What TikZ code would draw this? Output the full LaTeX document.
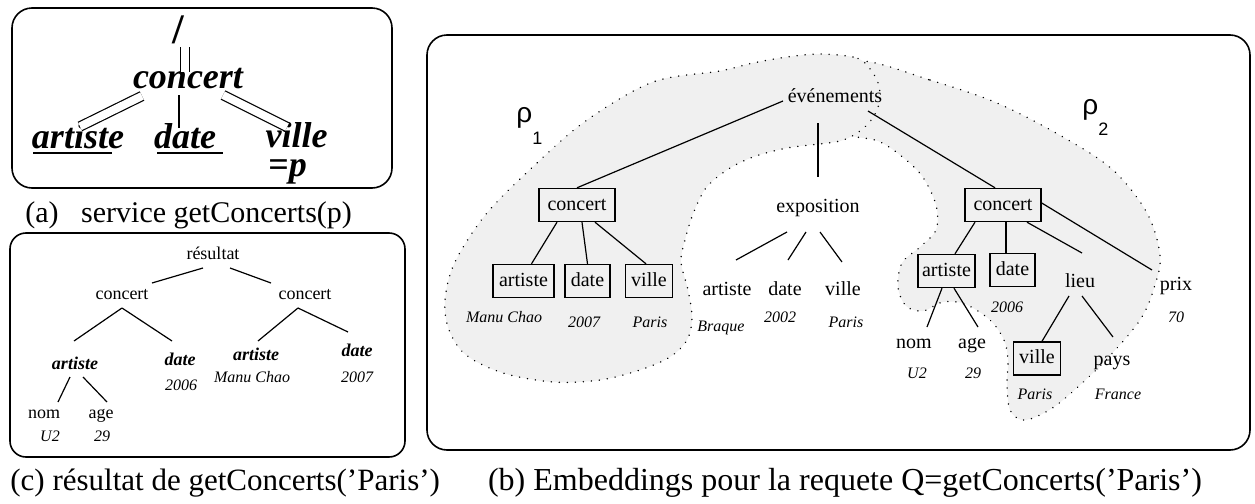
\documentclass[tikz,border=0pt]{standalone}
\usepackage{fontspec}
\setmainfont{Liberation Serif}
\newfontfamily\rhofont{Liberation Sans}
\usetikzlibrary{calc}

\begin{document}
\begin{tikzpicture}[x=0.5pt,y=-0.5pt,
  panel/.style={line width=0.8pt, rounded corners=10pt},
  conn/.style={line width=0.6pt},
  dbl/.style={double, double distance=4pt, line width=0.6pt},
  blob/.style={fill=black!6, line width=0.8pt, line cap=round, dash pattern=on 0.01pt off 4pt},
  abi/.style={font=\fontsize{18}{20}\selectfont\bfseries\itshape, inner sep=0pt, text height=12pt, text depth=4pt},
  lbl/.style={font=\fontsize{10}{12}\selectfont, inner sep=1pt, text height=7pt, text depth=2pt},
  bx/.style={lbl, draw, line width=0.7pt, inner xsep=3pt, minimum height=16.5pt},
  val/.style={font=\fontsize{8}{10}\selectfont\itshape, inner sep=1pt, text height=6pt, text depth=1.5pt},
  clbl/.style={font=\fontsize{9}{11}\selectfont, inner sep=1pt, text height=6.5pt, text depth=2pt},
  cbi/.style={clbl, font=\fontsize{9}{11}\selectfont\bfseries\itshape},
  rho/.style={font=\fontsize{14}{16}\selectfont\rhofont, inner sep=0pt, anchor=base west},
  captxt/.style={inner sep=0pt, anchor=base west}
]
\useasboundingbox (0,0) rectangle (1255,504);

% ---------- frames ----------
\draw[panel] (12,8) rectangle (392,188);
\draw[panel, rounded corners=8pt] (10,233) rectangle (405,457);
\draw[panel] (427,35) rectangle (1250,450);

% ---------- embedding regions ----------
% rho_2 first: its left end lies under rho_1
\draw[blob] plot[smooth cycle, tension=0.55] coordinates {
  (862,61) (930,80) (997,103) (1063,137) (1113,170) (1147,213) (1160,255)
  (1155,285) (1140,320) (1103,363) (1063,400) (1040,415) (1022,420)
  (1010,410) (1007,385) (1008,360) (1004,340) (990,320) (965,304) (943,302)
  (923,311) (906,306) (898,287) (902,263) (920,247) (936,230) (936,205)
  (922,176) (900,155) (878,141) (852,136) (815,125) (800,100) (815,75)};
\draw[blob] plot[smooth cycle, tension=0.55] coordinates {
  (866,64) (853,57) (820,54) (787,57) (753,63) (720,71) (653,82) (587,120)
  (537,163) (487,213) (455,262) (445,300) (449,330) (466,355) (503,373)
  (553,382) (600,380) (640,370) (670,357) (687,340) (692,318) (688,290)
  (681,262) (685,240) (693,214) (706,188) (727,170) (753,157) (787,148)
  (820,144) (840,141) (854,135) (868,124) (877,110) (880,95) (877,80)};

\node[rho] (r1) at (516,122) {ρ\raisebox{-11pt}{\fontsize{9}{10}\selectfont 1}};
\node[rho] (r2) at (1082,114) {ρ\raisebox{-10.5pt}{\fontsize{9}{10}\selectfont 2}};

% ---------- (a) service pattern ----------
\node[abi, font=\fontsize{21}{24}\selectfont\bfseries] (sl) at (178,35) {/};
\node[abi] (aC) at (188,80) {concert};
\node[abi] (aA) at (78,140) {artiste};
\node[abi] (aD) at (185,140) {date};
\node[abi, text depth=2pt] (aV) at (296.5,137) {ville};
\node[abi, text height=9pt] (aP) at (287.5,171) {=p};

\draw[dbl] ($(sl)+(7,12)$) -- ($(aC)+(-3,-8)$);
\draw[dbl] ($(aC)+(-46,16)$) -- ($(aA)+(2,-13.5)$);
\draw[conn] ($(aC)+(-9,15)$) -- ($(aD)+(-6,-12)$);
\draw[dbl] ($(aC)+(35,15)$) -- ($(aV)+(-9.5,-10)$);
\draw[conn] ($(aA)+(-45,13)$) -- ($(aA)+(34,13)$);
\draw[conn] ($(aD)+(-28,13)$) -- ($(aD)+(38,13)$);

\node[captxt, font=\fontsize{15}{18}\selectfont] (capA) at (25,222) {(a)\hspace{0.5em} service getConcerts(p)};

% ---------- (c) result tree ----------
\node[clbl] (res) at (213,255) {résultat};
\node[clbl] (c1) at (122,295) {concert};
\node[clbl] (c2) at (305,295) {concert};
\node[cbi] (a1) at (75,365) {artiste};
\node[cbi] (d1) at (180,361) {date};
\node[val] (v2006) at (181,386) {2006};
\node[cbi] (a2) at (256,356) {artiste};
\node[val] (vManu) at (252,378) {Manu Chao};
\node[cbi] (d2) at (357,352) {date};
\node[val] (v2007) at (357,378) {2007};
\node[clbl] (cnom) at (44,414) {nom};
\node[clbl] (cage) at (101,414) {age};
\node[val] (vU2) at (50,437) {U2};
\node[val] (v29) at (102,437) {29};

\draw[conn] ($(res)+(-10,13)$) -- ($(c1)+(30,-12)$);
\draw[conn] ($(res)+(17,13)$) -- ($(c2)+(-34,-12)$);
\draw[conn] ($(c1)+(0,13)$) -- ($(a1)+(-1,-24)$);
\draw[conn] ($(c1)+(0,13)$) -- ($(d1)+(-8,-20)$);
\draw[conn] ($(c2)+(-7,13)$) -- ($(a2)+(2,-15)$);
\draw[conn] ($(c2)+(-7,13)$) -- ($(d2)+(-9,-20)$);
\draw[conn] ($(a1)+(-5,12)$) -- ($(cnom)+(14,-12)$);
\draw[conn] ($(a1)+(8,12)$) -- ($(cage)+(6,-12)$);

\node[captxt, font=\fontsize{15.5}{18}\selectfont] (capC) at (10,490) {(c) résultat de getConcerts('Paris')};

% ---------- (b) data tree ----------
\node[lbl] (ev) at (835,97) {événements};
\node[bx, inner xsep=4.3pt] (cL) at (577,205) {concert};
\node[lbl] (ex) at (818,207) {exposition};
\node[bx, inner xsep=4.3pt] (cR) at (1003,205) {concert};
\node[bx] (aL) at (523.5,281) {artiste};
\node[bx] (dL) at (587.5,281) {date};
\node[bx] (vL) at (649,281) {ville};
\node[val] (vaL) at (504,318) {Manu Chao};
\node[val] (vdL) at (584,323) {2007};
\node[val] (vvL) at (650,323) {Paris};
\node[lbl] (aE) at (727,290) {artiste};
\node[lbl] (dE) at (785,290) {date};
\node[lbl] (vE) at (843,290) {ville};
\node[val] (vaE) at (721,327) {Braque};
\node[val] (vdE) at (780,318) {2002};
\node[val] (vvE) at (846,323) {Paris};
\node[bx, inner xsep=2pt] (aR) at (946.5,271) {artiste};
\node[bx] (dR) at (1012.5,270) {date};
\node[lbl] (lieu) at (1080,282) {lieu};
\node[lbl] (prix) at (1176,285) {prix};
\node[val] (vdR) at (1007,308) {2006};
\node[val] (vprix) at (1176,318) {70};
\node[lbl] (nom) at (914,343) {nom};
\node[lbl] (age) at (972,343) {age};
\node[val] (vnom) at (917,374) {U2};
\node[val] (vage) at (973,374) {29};
\node[bx] (vR) at (1037,358.5) {ville};
\node[lbl] (pays) at (1112,360) {pays};
\node[val] (vvR) at (1035,395) {Paris};
\node[val] (vpays) at (1118,395) {France};

\draw[conn] ($(ev)+(-52,4)$) -- (cL.north);
\draw[conn] ($(ev)+(-17,26)$) -- ($(ex)+(0,-30)$);
\draw[conn] ($(ev)+(33,14)$) -- ($(cR.north)+(-8,0)$);
\draw[conn] ($(cL.south)+(-20,0)$) -- ($(aL.north)+(8,0)$);
\draw[conn] ($(cL.south)+(5,0)$) -- (dL.north);
\draw[conn] ($(cL.south)+(18,0)$) -- ($(vL.north)+(-3,0)$);
\draw[conn] ($(ex)+(-31,25)$) -- ($(aE)+(9,-30)$);
\draw[conn] ($(ex)+(-12,25)$) -- ($(dE)+(3,-30)$);
\draw[conn] ($(ex)+(2,25)$) -- ($(vE)+(-1,-28)$);
\draw[conn] ($(cR.south)+(-28,0)$) -- ($(aR.north)+(8.5,0)$);
\draw[conn] ($(cR.south)+(3,0)$) -- ($(dR.north)+(-6.5,0)$);
\draw[conn] ($(cR.south)+(24,0)$) -- ($(lieu)+(2,-29)$);
\draw[conn] ($(cR.east)+(0,-2)$) -- ($(prix)+(-24,-15)$);
\draw[conn] ($(aR.south)+(-4.5,0)$) -- ($(nom)+(13,-16)$);
\draw[conn] ($(aR.south)+(7.5,0)$) -- ($(age)+(6,-16)$);
\draw[conn] ($(lieu)+(-11,14)$) -- ($(vR.north)+(5,0)$);
\draw[conn] ($(lieu)+(2,14)$) -- ($(pays)+(1,-23)$);

\node[inner sep=0pt, anchor=base, font=\fontsize{16}{18}\selectfont] (capB) at (845,490) {(b) Embeddings pour la requete Q=getConcerts('Paris')};

\end{tikzpicture}
\end{document}
